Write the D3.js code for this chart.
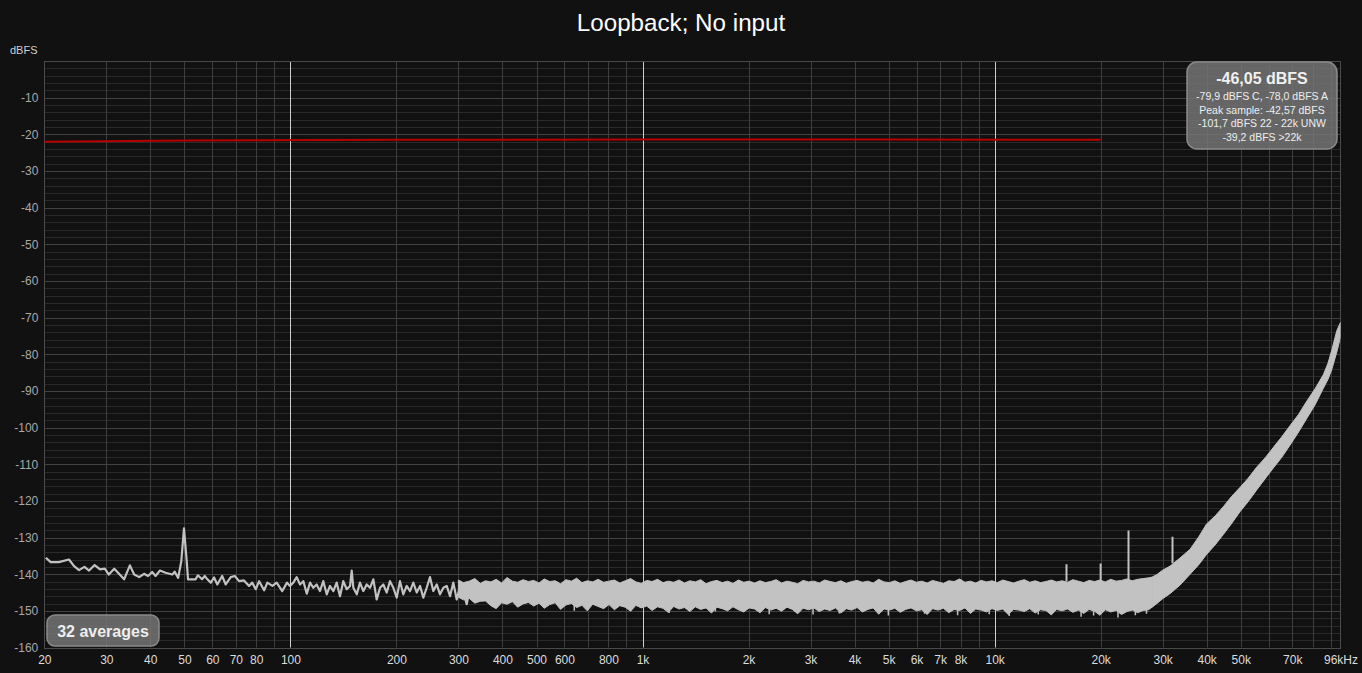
<!DOCTYPE html>
<html>
<head>
<meta charset="utf-8">
<script src="https://cdn.jsdelivr.net/npm/d3@7"></script>
<style>
html,body{margin:0;padding:0;background:#111111;}
svg{display:block;}
text{font-family:"Liberation Sans",Arial,sans-serif;}
</style>
</head>
<body>
<svg id="chart" width="1362" height="673"></svg>
<script>
// ---------- DATA ----------
const chartTitle = "Loopback; No input";
const yAxisTitle = "dBFS";
const freqTicks = [20,30,40,50,60,70,80,100,200,300,400,500,600,800,1000,2000,3000,4000,5000,6000,7000,8000,10000,20000,30000,40000,50000,70000,96000];
const freqTickLabels = ["20","30","40","50","60","70","80","100","200","300","400","500","600","800","1k","2k","3k","4k","5k","6k","7k","8k","10k","20k","30k","40k","50k","70k","96kHz"];
const dbTicks = [-10,-20,-30,-40,-50,-60,-70,-80,-90,-100,-110,-120,-130,-140,-150,-160];

// red reference line [Hz, dBFS]
const refLine = [[20,-22.0],[50,-21.7],[200,-21.5],[1000,-21.4],[5000,-21.4],[20000,-21.5]];

// low-frequency noise trace [Hz, dBFS]
const lowTrace = [
 [20.2,-135.5],[20.85,-136.7],[22.0,-136.7],[23.5,-136.0],[24.3,-137.8],[25.1,-138.9],[26.0,-138.0],[26.8,-139.0],
 [27.8,-137.5],[28.8,-138.7],[29.7,-138.5],[30.5,-140.1],[31.6,-138.5],[32.6,-139.9],[33.7,-141.4],[35.0,-137.6],
 [36.0,-140.1],[37.2,-140.8],[38.4,-139.9],[39.4,-140.5],[40.5,-139.4],[41.4,-140.5],[42.6,-139.0],[44.2,-139.6],
 [46.2,-140.1],[46.9,-139.3],[48.0,-141.0],[49.0,-136.4],[49.86,-127.5],[50.75,-136.4],[51.2,-141.4],[53.8,-141.4],
 [54.6,-140.3],[56.1,-141.4],[57.1,-140.5],[58.1,-141.4],[59.4,-142.3],[60.7,-140.9],[62.0,-142.8],[64.0,-140.5],
 [65.5,-142.8],[67.7,-140.8],[69.5,-140.5],[71.5,-141.9],[73.8,-141.7],[76.3,-143.2],[77.9,-142.3],[79.7,-144.1],
 [81.5,-141.9],[84.2,-144.4],[86.0,-142.3],[88.9,-143.2],[91.4,-142.3],[94.8,-144.6],[97.8,-142.3],[99.7,-143.2],
 [101.9,-142.3],[104.2,-140.8],[106.5,-142.8],[108.8,-141.9],[111.3,-145.3],[113.7,-142.3],[116.1,-143.7],[118.7,-142.8],
 [121.3,-144.6],[124.0,-141.9],[126.8,-145.5],[129.5,-143.2],[132.4,-144.6],[135.3,-142.3],[138.3,-146.0],[141.3,-141.9],
 [144.5,-144.1],[147.7,-143.2],[149.3,-139.0],[150.9,-143.7],[154.3,-145.5],[157.6,-142.3],[161.1,-144.6],[164.7,-142.8],
 [168.3,-143.7],[172.0,-141.4],[175.8,-146.9],[179.7,-143.7],[183.6,-142.8],[187.7,-145.0],[191.8,-141.9],[196.0,-143.7],
 [200.4,-146.4],[204.7,-141.9],[209.2,-145.5],[213.9,-143.2],[218.6,-144.6],[223.4,-142.3],[228.4,-145.0],[233.4,-143.2],
 [238.5,-146.4],[243.8,-143.7],[249.1,-140.8],[254.6,-144.6],[260.3,-142.8],[266.0,-145.5],[271.9,-143.7],[277.9,-143.2],
 [284.0,-146.0],[290.2,-142.3],[296.7,-146.9],[303.2,-143.2],[309.8,-145.0],[316.7,-148.2],[323.6,-143.7]
];

// dense noise floor band (flat part): frequency, upper edge, lower edge (dBFS)
const bandFreq = [300,310,322,334,346,358,371,384,398,412,427,442,458,474,
 491,508,526,545,565,585,606,628,650,673,697,722,748,775,
 803,832,862,893,925,958,992,1028,1065,1103,1143,1184,1226,1270,
 1316,1363,1412,1463,1515,1570,1626,1684,1745,1807,1872,1939,2009,2081,
 2156,2233,2313,2396,2482,2571,2664,2759,2858,2961,3067,3177,3291,3410,
 3532,3659,3790,3926,4067,4213,4365,4521,4684,4852,5026,5207,5394,5587,
 5788,5996,6211,6434,6665,6905,7153,7410,7676,7952,8237,8533,8840,9157,
 9486,9827,10180,10546,10924,11317,11723,12144,12580,13032,13501,13986,14488,15009,
 15548,16107,16686,17285,17906,18550,19216,19907,20622,21363,22131,22926,23750,24604,
 25488,26404,27353,28000];
const bandHigh = [-141.6,-142.3,-141.9,-141.2,-142.5,-141.8,-142.1,-141.4,-142.4,-140.9,-141.9,-142.2,-141.5,-142.0,
 -141.7,-142.4,-141.3,-142.0,-141.8,-142.6,-141.5,-141.9,-141.1,-142.3,-141.8,-142.1,-141.4,-142.2,
 -141.9,-141.6,-142.4,-141.8,-141.2,-142.1,-142.5,-141.7,-142.0,-141.4,-142.3,-141.9,-142.2,-141.6,
 -142.4,-141.8,-142.1,-141.5,-142.6,-142.0,-141.7,-142.3,-141.9,-142.5,-141.6,-142.2,-141.9,-142.4,
 -141.8,-142.3,-142.0,-141.5,-142.4,-141.9,-142.2,-142.6,-141.7,-142.1,-141.9,-142.4,-141.6,-142.0,
 -142.3,-141.8,-142.5,-142.0,-141.7,-142.2,-141.9,-142.4,-141.4,-142.1,-142.3,-141.8,-142.5,-142.0,
 -141.6,-142.2,-141.9,-142.4,-141.7,-142.1,-142.5,-141.8,-142.0,-141.3,-142.2,-141.9,-142.4,-141.7,
 -142.1,-141.8,-142.3,-141.6,-142.0,-142.4,-141.9,-141.5,-142.2,-141.8,-142.3,-142.0,-141.6,-142.1,
 -141.8,-142.2,-141.5,-141.9,-142.3,-141.7,-142.0,-141.6,-142.1,-141.4,-141.9,-141.7,-141.3,-141.8,
 -141.4,-141.2,-141.0,-140.8];
const bandLow = [-146.3,-147.0,-146.6,-147.9,-147.4,-147.3,-148.6,-149.4,-147.8,-148.2,-147.5,-149.0,-148.1,-147.7,
 -148.7,-147.9,-149.3,-148.3,-147.8,-149.6,-148.4,-148.0,-149.1,-148.5,-150.0,-148.2,-148.8,-149.4,
 -148.3,-149.7,-148.6,-149.0,-150.1,-148.5,-149.2,-148.7,-149.9,-148.9,-149.3,-150.4,-148.8,-149.5,
 -149.1,-150.2,-148.9,-149.6,-149.2,-150.6,-149.0,-149.4,-150.0,-148.9,-149.7,-150.3,-149.2,-149.5,
 -150.5,-149.1,-149.8,-149.3,-150.1,-149.0,-149.6,-150.8,-149.3,-149.7,-149.2,-150.2,-149.5,-149.9,
 -149.2,-150.6,-149.4,-149.8,-149.1,-150.3,-149.6,-149.2,-150.9,-149.5,-149.8,-149.3,-150.4,-149.6,
 -149.2,-150.0,-149.7,-151.0,-149.4,-149.8,-149.3,-150.5,-149.6,-149.9,-149.2,-150.7,-149.5,-149.8,
 -150.3,-149.4,-149.9,-149.5,-151.0,-149.6,-149.8,-150.2,-149.4,-150.6,-149.7,-149.9,-151.1,-149.6,
 -150.0,-149.5,-150.4,-149.8,-150.7,-149.6,-150.1,-151.2,-149.7,-150.3,-149.9,-151.0,-150.2,-149.8,
 -150.5,-149.9,-149.7,-149.0];

// rising part of the noise floor above ~28 kHz
const riseFreq = [28000,28900,30000,31500,33600,35900,38000,40000,42300,44600,47000,49800,52500,55500,58600,61900,65300,69000,73000,77000,81300,85800,88500,90600,93700,96000];
const riseHigh = [-140.8,-140.1,-138.9,-137.8,-135.6,-133.2,-129.8,-126.3,-124.1,-121.6,-118.9,-116.3,-113.8,-110.8,-108.3,-105.4,-102.6,-99.5,-96.4,-92.8,-89.4,-85.6,-82.4,-79.0,-73.6,-71.3];
const riseLow = [-149.0,-148.0,-146.7,-145.3,-143.0,-140.0,-137.4,-134.6,-132.0,-129.2,-126.3,-122.9,-120.2,-117.0,-114.0,-111.0,-108.2,-104.8,-101.2,-97.5,-93.8,-89.3,-86.8,-84.3,-79.4,-75.3];

// narrow downward dips below the noise floor [Hz, dBFS]
const dips = [[640,-150.0],[1190,-150.6],[1610,-150.2],[2290,-150.9],[3050,-151.0],[3620,-150.7],[4990,-151.3],[6320,-150.8],[7850,-151.2],[9650,-150.9],[11000,-151.4],[13300,-151.0],[17600,-151.6],[19100,-151.3],[22400,-151.8],[25100,-151.2],[27000,-150.8]];

// isolated spurs [Hz, peak dBFS, base dBFS]
const spurs = [[16000,-137.3,-142.0],[20000,-137.1,-142.0],[24000,-128.1,-142.0],[32000,-129.8,-137.0]];

const infoTitle = "-46,05 dBFS";
const infoLines = ["-79,9 dBFS C, -78,0 dBFS A","Peak sample: -42,57 dBFS","-101,7 dBFS 22 - 22k UNW","-39,2 dBFS >22k"];
const averagesLabel = "32 averages";

// ---------- CHART ----------
const svg = d3.select("#chart");
const L = 44.3, R = 1340.5, T = 61, B = 647.5;
const x = d3.scaleLog().domain([20,96000]).range([L,R]);
const y = d3.scaleLinear().domain([-160,0]).range([B,T]);

svg.append("rect").attr("width",1362).attr("height",673).attr("fill","#111111");

// grid
const grid = svg.append("g");
for (let d=-158; d<0; d+=2){
  const major = d%10===0;
  grid.append("line").attr("x1",L).attr("x2",R).attr("y1",Math.round(y(d))+0.5).attr("y2",Math.round(y(d))+0.5)
    .attr("stroke", major ? "#424242" : "#2a2a2a").attr("stroke-width",1);
}
[10,100,1000,10000].forEach(dec=>{
  for(let m=1;m<10;m++){
    const f=dec*m;
    if(f<20||f>=96000) continue;
    const bright = (m===1 && dec>=100);
    grid.append("line").attr("x1",Math.round(x(f))+0.5).attr("x2",Math.round(x(f))+0.5).attr("y1",T).attr("y2",B)
      .attr("stroke", bright ? "#cfcfcf" : "#3e3e3e").attr("stroke-width",1);
  }
});
svg.append("rect").attr("x",Math.round(L)+0.5).attr("y",Math.round(T)+0.5).attr("width",Math.round(R-L)).attr("height",Math.round(B-T))
  .attr("fill","none").attr("stroke","#4a4a4a").attr("stroke-width",1);

svg.append("clipPath").attr("id","plotclip").append("rect").attr("x",L).attr("y",T).attr("width",R-L).attr("height",B-T);
const plot = svg.append("g").attr("clip-path","url(#plotclip)");

const traceColor = "#c2c2c2";
const area = d3.area().x(d=>x(d.f)).y0(d=>y(d.lo)).y1(d=>y(d.hi));

const bandData = bandFreq.map((f,i)=>({f, hi:bandHigh[i], lo:bandLow[i]}));
plot.append("path").datum(bandData).attr("d", area)
  .attr("fill",traceColor).attr("stroke",traceColor).attr("stroke-width",1);

const riseData = riseFreq.map((f,i)=>({f, hi:riseHigh[i], lo:riseLow[i]}));
plot.append("path").datum(riseData).attr("d", area)
  .attr("fill",traceColor).attr("stroke",traceColor).attr("stroke-width",1);

plot.selectAll("line.dip").data(dips).enter().append("line")
  .attr("x1",d=>x(d[0])).attr("x2",d=>x(d[0])).attr("y1",y(-148)).attr("y2",d=>y(d[1]))
  .attr("stroke",traceColor).attr("stroke-width",1.5);

plot.append("path").datum(lowTrace)
  .attr("d", d3.line().x(d=>x(d[0])).y(d=>y(d[1])))
  .attr("fill","none").attr("stroke",traceColor).attr("stroke-width",2.2).attr("stroke-linejoin","round");

plot.selectAll("line.spur").data(spurs).enter().append("line")
  .attr("x1",d=>x(d[0])).attr("x2",d=>x(d[0])).attr("y1",d=>y(d[1])).attr("y2",d=>y(d[2]))
  .attr("stroke",traceColor).attr("stroke-width",2);

plot.append("path").datum(refLine)
  .attr("d", d3.line().x(d=>x(d[0])).y(d=>y(d[1])))
  .attr("fill","none").attr("stroke","#b80000").attr("stroke-width",2);

// axes
const xAxis = d3.axisBottom(x).tickValues(freqTicks).tickFormat((d,i)=>freqTickLabels[i]).tickSize(0).tickPadding(8);
const gx = svg.append("g").attr("transform",`translate(0,${B})`).call(xAxis);
gx.select(".domain").remove();
gx.selectAll("text").attr("fill","#dcdcdc").style("font-size","12px").style("font-family","'Liberation Sans',Arial,sans-serif");

const yAxis = d3.axisLeft(y).tickValues(dbTicks).tickFormat(d=>d).tickSize(0).tickPadding(6);
const gy = svg.append("g").attr("transform",`translate(${L},0)`).call(yAxis);
gy.select(".domain").remove();
gy.selectAll("text").attr("fill","#a8a8a8").style("font-size","12px").style("font-family","'Liberation Sans',Arial,sans-serif");

svg.append("text").attr("x",10).attr("y",54).attr("fill","#cfcfcf").style("font-size","11px").text(yAxisTitle);

svg.append("text").attr("x",681).attr("y",31).attr("text-anchor","middle").attr("fill","#ffffff")
  .style("font-size","24.2px").text(chartTitle);

// info box
const ib = svg.append("g");
ib.append("rect").attr("x",1187).attr("y",62).attr("width",150).attr("height",87).attr("rx",10)
  .attr("fill","rgba(120,120,120,0.82)").attr("stroke","#8a8a8a").attr("stroke-width",1.5);
ib.append("text").attr("x",1262).attr("y",84).attr("text-anchor","middle").attr("fill","#f0f0f0")
  .style("font-size","16px").style("font-weight","bold").text(infoTitle);
infoLines.forEach((t,i)=>{
  ib.append("text").attr("x",1262).attr("y",100+i*13.7).attr("text-anchor","middle").attr("fill","#eeeeee")
    .style("font-size","10.5px").text(t);
});

// averages box
const ab = svg.append("g");
ab.append("rect").attr("x",47).attr("y",615).attr("width",112).attr("height",31).attr("rx",8)
  .attr("fill","rgba(120,120,120,0.82)").attr("stroke","#8a8a8a").attr("stroke-width",1.5);
ab.append("text").attr("x",103).attr("y",637).attr("text-anchor","middle").attr("fill","#eeeeee")
  .style("font-size","16px").style("font-weight","bold").text(averagesLabel);
</script>
</body>
</html>
